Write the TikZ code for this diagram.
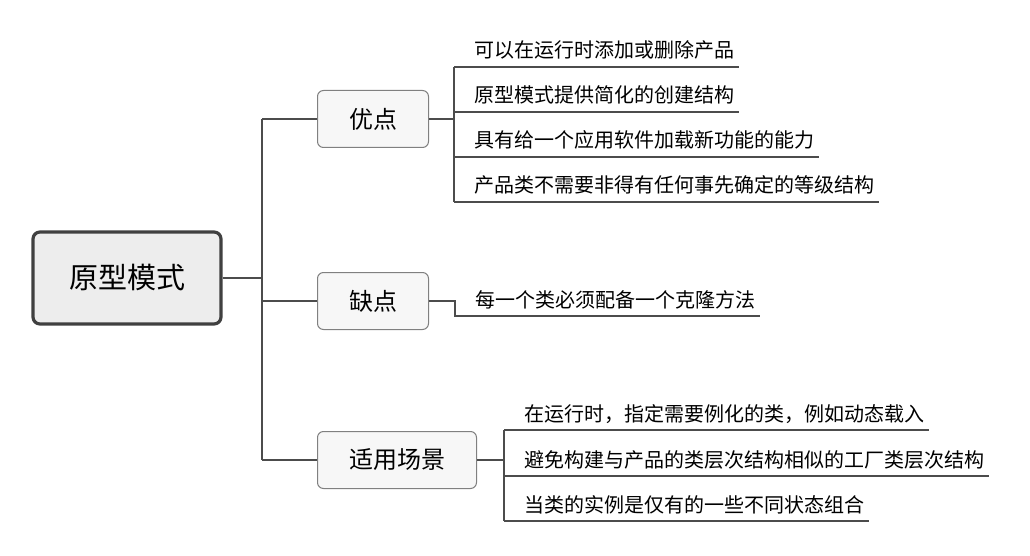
\documentclass[tikz,border=0pt]{standalone}
\usepackage{fontspec}
\newfontfamily\cjk{Noto Sans CJK SC}
\begin{document}
\begin{tikzpicture}[
  x=1pt, y=-1pt,
  root/.style={draw=black!75, line width=3.2pt, rounded corners=7pt, fill=black!7, minimum width=188pt, minimum height=92pt, font=\cjk\fontsize{29}{32}\selectfont},
  topic/.style={draw=black!50, line width=1pt, rounded corners=6pt, fill=black!3, minimum height=57pt, inner xsep=31.5pt, anchor=west, font=\cjk\fontsize{24}{28}\selectfont},
  leaf/.style={anchor=base west, inner xsep=5pt, inner ysep=0pt, font=\cjk\fontsize{20}{24}\selectfont},
  link/.style={draw=black!70, line width=1.1pt}
]
\useasboundingbox (0,0) rectangle (1030,556);
\node[root] (proto) at (127,278) {原型模式};
\node[topic] (good) at (317,119) {优点};
\node[topic] (bad) at (317,301) {缺点};
\node[topic] (scene) at (317,460) {适用场景};
\coordinate (trunk) at (262,0);
\coordinate (g1) at (454,67);
\coordinate (g2) at (454,112);
\coordinate (g3) at (454,157);
\coordinate (g4) at (454,202);
\coordinate (b1) at (455,316);
\coordinate (s1) at (504,430);
\coordinate (s2) at (504,476);
\coordinate (s3) at (504,521);
\node[leaf] (good1) at (469,58) {可以在运行时添加或删除产品};
\node[leaf] (good2) at (469,103) {原型模式提供简化的创建结构};
\node[leaf] (good3) at (469,148) {具有给一个应用软件加载新功能的能力};
\node[leaf] (good4) at (469,193) {产品类不需要非得有任何事先确定的等级结构};
\node[leaf] (bad1) at (470,307) {每一个类必须配备一个克隆方法};
\node[leaf] (scene1) at (519,421) {在运行时，指定需要例化的类，例如动态载入};
\node[leaf] (scene2) at (519,467) {避免构建与产品的类层次结构相似的工厂类层次结构};
\node[leaf] (scene3) at (519,512) {当类的实例是仅有的一些不同状态组合};
\draw[link] (proto.east) -- (proto.east -| trunk);
\draw[link] (good.west -| trunk) -- (scene.west -| trunk);
\draw[link] (good.west -| trunk) -- (good.west);
\draw[link] (bad.west -| trunk) -- (bad.west);
\draw[link] (scene.west -| trunk) -- (scene.west);
\draw[link] (good.east) -- (good.east -| g1);
\draw[link] (g1) -- (g4);
\draw[link] (g1) -- (g1 -| good1.east);
\draw[link] (g2) -- (g2 -| good2.east);
\draw[link] (g3) -- (g3 -| good3.east);
\draw[link] (g4) -- (g4 -| good4.east);
\draw[link] (bad.east) -- (bad.east -| b1) -- (b1) -- (b1 -| bad1.east);
\draw[link] (scene.east) -- (scene.east -| s1);
\draw[link] (s1) -- (s3);
\draw[link] (s1) -- (s1 -| scene1.east);
\draw[link] (s2) -- (s2 -| scene2.east);
\draw[link] (s3) -- (s3 -| scene3.east);
\end{tikzpicture}
\end{document}
